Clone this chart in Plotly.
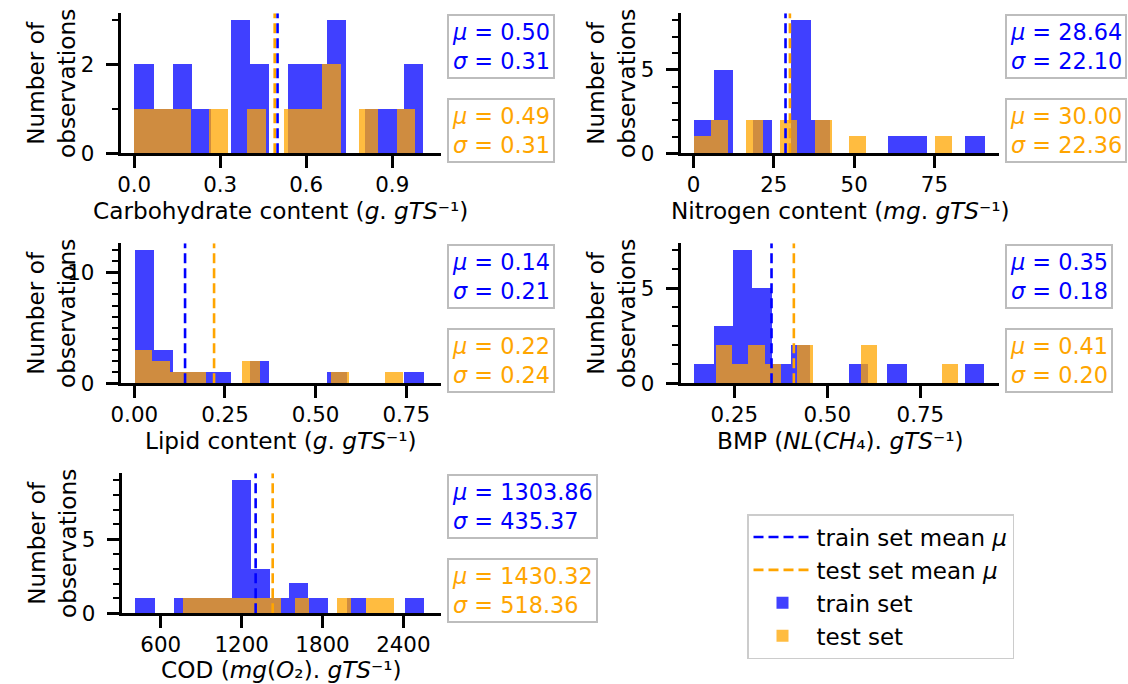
import numpy as np
import plotly.graph_objects as go

# ---------------- data ----------------
x_titles = [
    "Carbohydrate content (<i>g</i>. <i>gTS</i>⁻¹)",
    "Nitrogen content (<i>mg</i>. <i>gTS</i>⁻¹)",
    "Lipid content (<i>g</i>. <i>gTS</i>⁻¹)",
    "BMP (<i>NL</i>(<i>CH</i>₄). <i>gTS</i>⁻¹)",
    "COD (<i>mg</i>(<i>O</i>₂). <i>gTS</i>⁻¹)",
]

train_lo = [0.0, 0.2, 0.0, 0.142, 409.7]
train_hi = [1.007, 90.6, 0.797, 0.920, 2549.0]
test_lo = [0.0, 0.0, 0.0, 0.2006, 760.7]
test_hi = [0.980, 80.5, 0.739, 0.8505, 2325.5]

train_counts_carb = [2, 1, 2, 1, 0, 3, 2, 0, 2, 2, 3, 0, 1, 1, 2]
test_counts_carb = [1, 1, 1, 0, 1, 0, 1, 0, 1, 1, 2, 0, 1, 0, 1]
train_counts_nitro = [2, 5, 0, 2, 0, 8, 2, 0, 0, 0, 1, 1, 0, 0, 1]
test_counts_nitro = [1, 2, 0, 2, 0, 2, 0, 2, 0, 1, 0, 0, 0, 0, 1]
train_counts_lipid = [12, 3, 1, 1, 1, 0, 2, 0, 0, 0, 1, 0, 0, 0, 1]
test_counts_lipid = [3, 2, 1, 1, 0, 0, 2, 0, 0, 0, 0, 1, 0, 0, 1]
train_counts_bmp = [1, 3, 7, 5, 1, 2, 0, 0, 1, 0, 1, 0, 0, 0, 1]
test_counts_bmp = [2, 1, 2, 1, 0, 2, 0, 0, 0, 2, 0, 0, 0, 0, 1]
train_counts_cod = [1, 0, 1, 1, 1, 9, 3, 1, 2, 1, 0, 1, 0, 0, 1]
test_counts_cod = [1, 1, 1, 1, 1, 1, 1, 0, 1, 0, 0, 1, 0, 1, 1]

train_counts = [train_counts_carb, train_counts_nitro, train_counts_lipid,
                train_counts_bmp, train_counts_cod]
test_counts = [test_counts_carb, test_counts_nitro, test_counts_lipid,
               test_counts_bmp, test_counts_cod]

train_mean = [0.50, 28.64, 0.14, 0.35, 1303.86]
train_std = [0.31, 22.10, 0.21, 0.18, 435.37]
test_mean = [0.49, 30.00, 0.22, 0.41, 1430.32]
test_std = [0.31, 22.36, 0.24, 0.20, 518.36]

x_ranges = [[-0.047, 1.069], [-4.0, 95.2], [-0.0375, 0.845], [0.106, 0.962], [310, 2677]]
y_max = [3.15, 8.4, 12.6, 7.35, 9.45]
x_tickvals = [[0.0, 0.3, 0.6, 0.9], [0, 25, 50, 75], [0.0, 0.25, 0.5, 0.75],
              [0.25, 0.5, 0.75], [600, 1200, 1800, 2400]]
x_ticktext = [["0.0", "0.3", "0.6", "0.9"], ["0", "25", "50", "75"],
              ["0.00", "0.25", "0.50", "0.75"], ["0.25", "0.50", "0.75"],
              ["600", "1200", "1800", "2400"]]
y_major = [2, 5, 10, 5, 5]

# ---------------- layout geometry (pixels) ----------------
W, H = 1128, 684
FONT = "DejaVu Sans"
FS_TICK = 21.4
FS_LABEL = 23.2
FS_STAT = 22.4
FS_LEGEND = 23
BLUE = "#0000ff"
ORANGE = "#ffa500"
BAR_BLUE = "rgba(0,0,255,0.75)"
BAR_ORANGE = "rgba(255,165,0,0.75)"

boxes = [
    (120.7, 440.7, 13.3, 153.3),
    (680.7, 999.3, 13.3, 153.3),
    (120.7, 440.7, 243.3, 383.3),
    (680.7, 999.3, 243.3, 383.3),
    (121.7, 440.7, 473.3, 613.3),
]
title_offset = [57.5, 57.5, 57.5, 57.5, 56.5]

fig = go.Figure()
annotations = []
layout = {}

for i in range(5):
    k = "" if i == 0 else str(i + 1)
    xa, ya = "x" + k, "y" + k
    l, r, t, b = boxes[i]

    for lo, hi, cnt, col, name in [
        (train_lo[i], train_hi[i], train_counts[i], BAR_BLUE, "train set"),
        (test_lo[i], test_hi[i], test_counts[i], BAR_ORANGE, "test set"),
    ]:
        edges = np.linspace(lo, hi, len(cnt) + 1)
        centers = (edges[:-1] + edges[1:]) / 2
        widths = np.diff(edges)
        fig.add_trace(go.Bar(
            x=centers, y=cnt, width=widths, marker=dict(color=col, line=dict(width=0)),
            name=name, xaxis=xa, yaxis=ya, showlegend=(i == 0),
            legendgroup=name, legendrank=3 if name == "train set" else 4,
        ))
    for m, col, name, rank in [
        (train_mean[i], BLUE, "train set mean <i>μ</i>", 1),
        (test_mean[i], ORANGE, "test set mean <i>μ</i>", 2),
    ]:
        fig.add_trace(go.Scatter(
            x=[m, m], y=[0, y_max[i]], mode="lines",
            line=dict(color=col, width=2.6, dash="10px,5px"),
            name=name, xaxis=xa, yaxis=ya, showlegend=(i == 0),
            legendgroup=name, legendrank=rank,
        ))

    axis_common = dict(
        showline=True, linewidth=3, linecolor="black", mirror=False,
        ticks="outside", ticklen=12, tickwidth=2.5, tickcolor="black",
        showgrid=False, zeroline=False, automargin=False,
        tickfont=dict(family=FONT, size=FS_TICK, color="black"),
    )
    layout["xaxis" + k] = dict(
        axis_common, domain=[l / W, r / W], anchor=ya, range=x_ranges[i],
        tickmode="array", tickvals=x_tickvals[i], ticktext=x_ticktext[i],
        ticklabelstandoff=-2,
    )
    layout["yaxis" + k] = dict(
        axis_common, domain=[1 - b / H, 1 - t / H], anchor=xa, range=[0, y_max[i]],
        tickmode="linear", tick0=0, dtick=y_major[i], ticklabelstandoff=7,
        minor=dict(dtick=1, tick0=0, ticks="outside", ticklen=6, tickwidth=2, tickcolor="black"),
    )

    annotations.append(dict(
        xref="paper", yref="paper", x=(l + r) / 2 / W, y=1 - (b + title_offset[i]) / H,
        xanchor="center", yanchor="middle", showarrow=False,
        text=x_titles[i], font=dict(family=FONT, size=FS_LABEL, color="black"),
    ))
    annotations.append(dict(
        xref="paper", yref="paper", x=(l - 70) / W, y=1 - (t + b) / 2 / H,
        xanchor="center", yanchor="middle", showarrow=False, textangle=-90,
        text="Number of<br>observations", font=dict(family=FONT, size=FS_LABEL, color="black"),
    ))
    annotations.append(dict(
        xref="paper", yref="paper", x=(r + 6) / W, y=1 - (t + 0.7) / H,
        xanchor="left", yanchor="top", showarrow=False, align="left",
        text="<i>μ</i> = {:.2f}<br><i>σ</i> = {:.2f}".format(train_mean[i], train_std[i]),
        font=dict(family=FONT, size=FS_STAT, color=BLUE),
        bgcolor="white", bordercolor="#bdbdbd", borderwidth=2, borderpad=3,
    ))
    annotations.append(dict(
        xref="paper", yref="paper", x=(r + 6) / W, y=1 - (b + 10) / H,
        xanchor="left", yanchor="bottom", showarrow=False, align="left",
        text="<i>μ</i> = {:.2f}<br><i>σ</i> = {:.2f}".format(test_mean[i], test_std[i]),
        font=dict(family=FONT, size=FS_STAT, color=ORANGE),
        bgcolor="white", bordercolor="#bdbdbd", borderwidth=2, borderpad=3,
    ))

fig.update_layout(
    width=W, height=H, margin=dict(l=0, r=0, t=0, b=0, autoexpand=False),
    paper_bgcolor="white", plot_bgcolor="white",
    barmode="overlay", bargap=0,
    font=dict(family=FONT, size=FS_TICK, color="black"),
    annotations=annotations,
    legend=dict(
        x=747 / W, y=1 - 514 / H, xanchor="left", yanchor="top",
        bordercolor="#cccccc", borderwidth=1.5, bgcolor="white",
        font=dict(family=FONT, size=FS_LEGEND, color="black"),
        traceorder="grouped", tracegroupgap=0, itemwidth=58,
    ),
    **layout,
)

fig.write_html("out.html", config={"displayModeBar": False},
               post_script="document.body.style.margin='0px';")
